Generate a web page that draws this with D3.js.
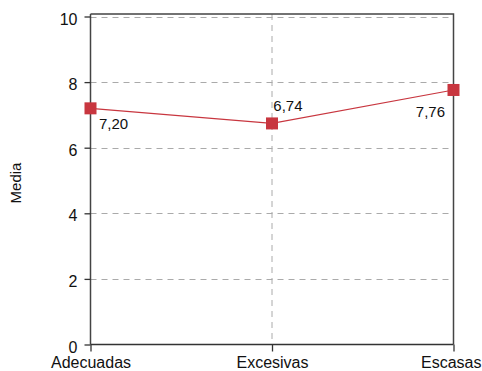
<!DOCTYPE html>
<html>
<head>
<meta charset="utf-8">
<script src="https://cdn.jsdelivr.net/npm/d3@7"></script>
<style>
  html, body { margin: 0; padding: 0; background: #fff; }
  svg { display: block; font-family: "Liberation Sans", Arial, Helvetica, sans-serif; }
</style>
</head>
<body>
<svg id="chart" width="482" height="371"></svg>
<script>
const categories = ["Adecuadas", "Excesivas", "Escasas"];
const values = [7.20, 6.74, 7.76];
const yTicks = [0, 2, 4, 6, 8, 10];
const yLabel = "Media";

(function () {
const svg = d3.select("#chart");
const mLeft = 90.5, mRight = 453.5, mTop = 14, mBottom = 344.5;

const x = d3.scalePoint().domain(categories).range([mLeft, mRight]);
const y = d3.scaleLinear().domain([0, 10]).range([mBottom, 16.5]);

const fmt = v => d3.format(".2f")(v).replace(".", ",");

// grid
const grid = svg.append("g").attr("stroke", "#aaaaaa").attr("stroke-width", 1).attr("stroke-dasharray", "6,5");
grid.selectAll("line.h").data(yTicks.filter(d => d > 0)).join("line")
  .attr("x1", mLeft).attr("x2", mRight)
  .attr("y1", d => Math.round(y(d)) + 0.5).attr("y2", d => Math.round(y(d)) + 0.5);
grid.selectAll("line.v").data(categories.slice(1, -1)).join("line")
  .attr("x1", d => x(d)).attr("x2", d => x(d))
  .attr("y1", mTop).attr("y2", mBottom);

// frame top/right
svg.append("path")
  .attr("d", `M${mLeft},${mTop}H${mRight}V${mBottom}`)
  .attr("fill", "none").attr("stroke", "#444").attr("stroke-width", 1.5);

// y axis
const yAxis = svg.append("g").attr("transform", `translate(${mLeft},0)`)
  .call(d3.axisLeft(y).tickValues(yTicks).tickSize(6).tickPadding(7).tickFormat(d3.format("d")));
yAxis.select(".domain").attr("stroke", "#444").attr("stroke-width", 1.5).attr("d", `M0,${mBottom}V${mTop}`);
yAxis.selectAll(".tick line").attr("stroke", "#333").attr("stroke-width", 1.3);
yAxis.selectAll(".tick text").attr("font-size", 16).attr("fill", "#111").attr("dy", "0.47em");
yAxis.attr("font-family", null);

// x axis
const xAxis = svg.append("g").attr("transform", `translate(0,${mBottom})`)
  .call(d3.axisBottom(x).tickSize(7).tickPadding(5));
xAxis.select(".domain").attr("stroke", "#333").attr("stroke-width", 1.3).attr("d", `M${mLeft},0H${mRight}`);
xAxis.selectAll(".tick line").attr("stroke", "#333").attr("stroke-width", 1.3);
xAxis.selectAll(".tick text").attr("font-size", 16).attr("fill", "#111")
  .attr("text-anchor", (d, i, n) => i === n.length - 1 ? "end" : "middle")
  .attr("dx", (d, i, n) => i === n.length - 1 ? 27.5 : 0);
xAxis.attr("font-family", null);

// y label
svg.append("text")
  .attr("transform", `translate(21,183) rotate(-90)`)
  .attr("text-anchor", "middle")
  .attr("font-size", 15).attr("fill", "#111")
  .text(yLabel);

const data = categories.map((c, i) => ({ c, v: values[i], i }));

// line
svg.append("path").datum(data)
  .attr("fill", "none").attr("stroke", "#c8363f").attr("stroke-width", 1.2)
  .attr("d", d3.line().x(d => x(d.c)).y(d => y(d.v)));

// markers
const ms = 12;
svg.selectAll("rect.m").data(data).join("rect")
  .attr("x", d => x(d.c) - ms / 2).attr("y", d => y(d.v) - ms / 2)
  .attr("width", ms).attr("height", ms)
  .attr("fill", "#c8363f");

// value labels
const labelPos = [
  { dx: 8.5, dy: 20.5, anchor: "start" },
  { dx: 1.3, dy: -12, anchor: "start" },
  { dx: -8.5, dy: 27, anchor: "end" }
];
svg.selectAll("text.vl").data(data).join("text")
  .attr("x", d => x(d.c) + labelPos[d.i].dx)
  .attr("y", d => y(d.v) + labelPos[d.i].dy)
  .attr("text-anchor", d => labelPos[d.i].anchor)
  .attr("font-size", 15).attr("fill", "#111")
  .text(d => fmt(d.v));
})();
</script>
</body>
</html>
